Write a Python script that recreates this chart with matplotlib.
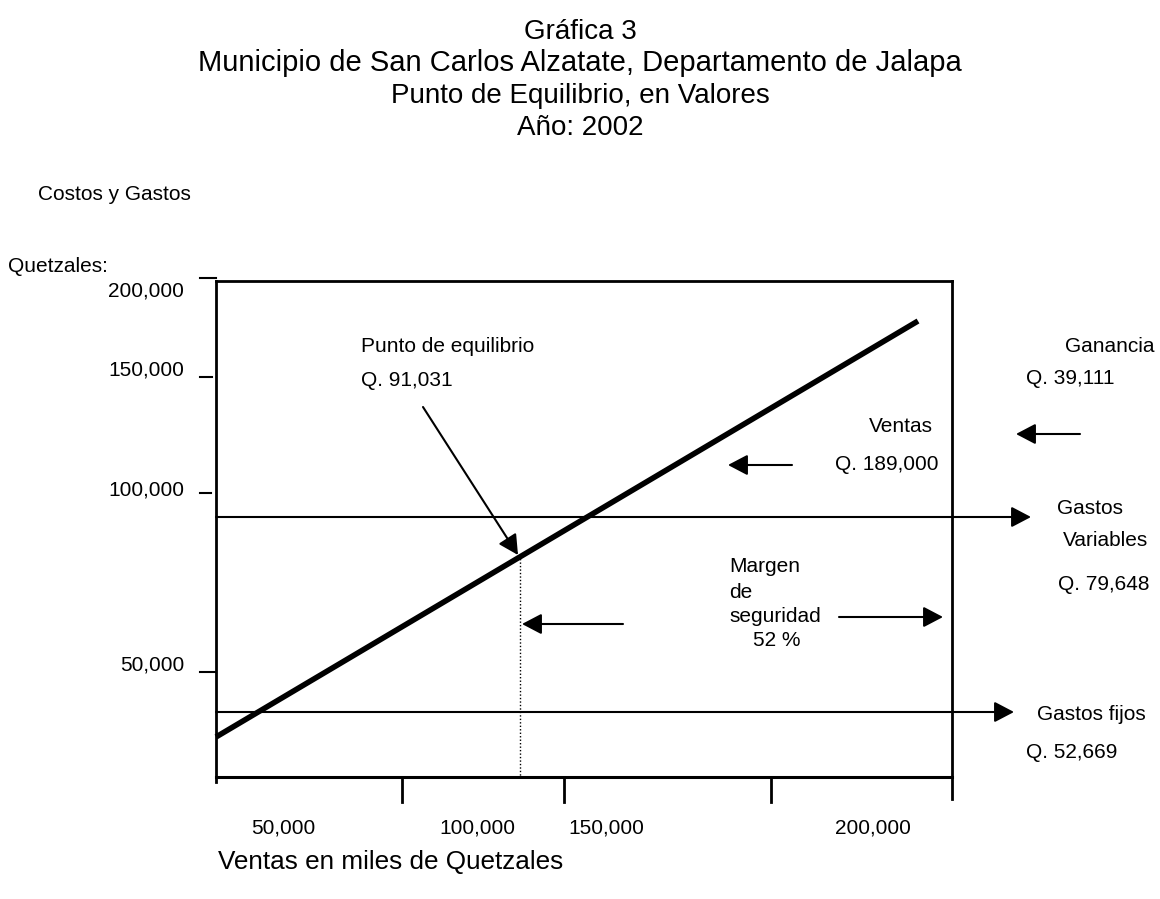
import numpy as np
import matplotlib
matplotlib.use('Agg')
import matplotlib.pyplot as plt

plt.rcParams['font.family'] = ['Liberation Sans', 'DejaVu Sans']

# textos del titulo
titulo = ['Gráfica 3',
          'Municipio de San Carlos Alzatate, Departamento de Jalapa',
          'Punto de Equilibrio, en Valores',
          'Año: 2002']
titulo_y = [39, 71, 103, 135]
titulo_tam = [20, 21, 20, 20]

# eje vertical (posiciones del dibujo, en pixeles)
y_etiquetas = ['200,000', '150,000', '100,000', '50,000']
y_etiq_pos = [291, 370, 490, 665]
y_marca_pos = [278, 377, 493, 672]
y_marca_ini = [200, 200, 200, 200]
y_marca_fin = [216, 212, 211, 216]

# eje horizontal
x_etiquetas = ['50,000', '100,000', '150,000', '200,000']
x_etiq_pos = [283, 477, 606, 873]
x_marca_pos = [402, 564, 771]

# caja de la grafica
caja_x = [216, 952]
caja_y = [281, 777]

# recta de ventas
ventas_x = [216, 918]
ventas_y = [737, 321]

# gastos variables y fijos (lineas horizontales con flecha)
gv_y = 517
gv_fin = 1031
gf_y = 712
gf_fin = 1014

# punto de equilibrio
pe_x = 520
pe_y = 555
pe_desde = (423, 407)

# flechas sueltas: (inicio, fin)
flechas = [((792, 465), (728, 465)),    # ventas
           ((1080, 434), (1016, 434)),  # ganancia
           ((623, 624), (522, 624)),    # margen izq
           ((839, 617), (943, 617))]    # margen der

# textos: (texto, x, y, alineacion)
textos = [('Punto de equilibrio', 361, 347, 'left'),
          ('Q. 91,031', 361, 380, 'left'),
          ('Ventas', 933, 427, 'right'),
          ('Q. 189,000', 835, 465, 'left'),
          ('Margen', 729, 567, 'left'),
          ('de', 729, 593, 'left'),
          ('seguridad', 729, 616, 'left'),
          ('52 %', 777, 640, 'center'),
          ('Ganancia', 1065, 347, 'left'),
          ('Q. 39,111', 1026, 379, 'left'),
          ('Gastos', 1057, 508, 'left'),
          ('Variables', 1063, 540, 'left'),
          ('Q. 79,648', 1058, 585, 'left'),
          ('Gastos fijos', 1037, 715, 'left'),
          ('Q. 52,669', 1026, 752, 'left'),
          ('Costos y Gastos', 38, 195, 'left'),
          ('Quetzales:', 8, 267, 'left')]

fig = plt.figure(figsize=(11.6, 8.99), dpi=100)
ax = fig.add_axes([0, 0, 1, 1])
ax.set_xlim(0, 1160)
ax.set_ylim(899, 0)
ax.axis('off')

for t, y, s in zip(titulo, titulo_y, titulo_tam):
    ax.text(580, y, t, ha='center', va='baseline', fontsize=s)

# caja
ax.plot([caja_x[0], caja_x[0]], [caja_y[0], caja_y[1] + 5], color='k', lw=2)
ax.plot([caja_x[1], caja_x[1]], [caja_y[0], caja_y[1] + 22], color='k', lw=2)
ax.plot(caja_x, [caja_y[0], caja_y[0]], color='k', lw=2)
ax.plot(caja_x, [caja_y[1], caja_y[1]], color='k', lw=2.2)

# marcas eje y
for y, a, b in zip(y_marca_pos, y_marca_ini, y_marca_fin):
    ax.plot([a, b], [y, y], color='k', lw=1.5)
for lab, y in zip(y_etiquetas, y_etiq_pos):
    ax.text(184, y, lab, ha='right', va='center', fontsize=15)

# marcas eje x
for x in x_marca_pos:
    ax.plot([x, x], [779, 802], color='k', lw=2)
for lab, x in zip(x_etiquetas, x_etiq_pos):
    ax.text(x, 828, lab, ha='center', va='center', fontsize=15)
ax.text(218, 862, 'Ventas en miles de Quetzales', ha='left', va='center', fontsize=18.8)

# recta de ventas
ax.plot(ventas_x, ventas_y, color='k', lw=4, solid_capstyle='butt')

# gastos variables y fijos
est = dict(arrowstyle='-|>,head_length=0.8,head_width=0.42', color='k', lw=1.5,
           mutation_scale=15, shrinkA=0, shrinkB=0)
ax.annotate('', xy=(gv_fin, gv_y), xytext=(caja_x[0], gv_y), arrowprops=est)
ax.annotate('', xy=(gf_fin, gf_y), xytext=(caja_x[0], gf_y), arrowprops=est)

# punto de equilibrio
ax.plot([pe_x, pe_x], [pe_y, caja_y[1]], color='k', lw=1, linestyle=(0, (1, 1.5)))
ax.annotate('', xy=(pe_x - 2, pe_y), xytext=pe_desde, arrowprops=est)

for ini, fin in flechas:
    ax.annotate('', xy=fin, xytext=ini, arrowprops=est)

for t, x, y, ha in textos:
    ax.text(x, y, t, ha=ha, va='center', fontsize=15)

fig.savefig('out.png', dpi=100)
